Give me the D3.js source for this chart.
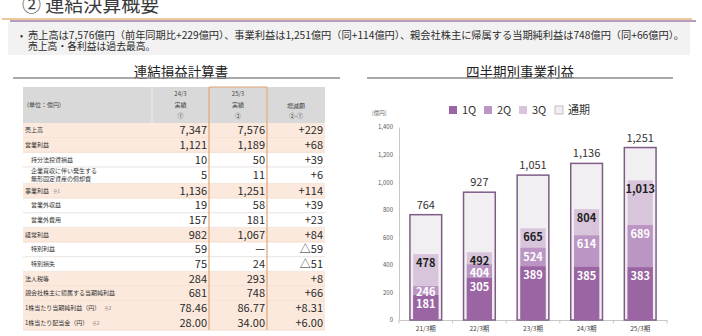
<!DOCTYPE html>
<html lang="ja">
<head>
<meta charset="utf-8">
<script src="https://cdn.jsdelivr.net/npm/d3@7"></script>
<style>
  html, body { margin: 0; padding: 0; background: #ffffff; }
  svg { display: block; font-family: "Noto Sans CJK JP", "Noto Sans", sans-serif; }
</style>
</head>
<body>
<svg id="page" width="702" height="336"></svg>
<script>
// ---- Summary text ----
const pageTitle = "② 連結決算概要";
const summaryLines = [
  "売上高は7,576億円（前年同期比+229億円）、事業利益は1,251億円（同+114億円）、親会社株主に帰属する当期純利益は748億円（同+66億円）。",
  "売上高・各利益は過去最高。"
];

// ---- Income statement table ----
const tableTitle = "連結損益計算書";
const unitLabel = "(単位：億円)";
const columnHeads = [["24/3", "実績", "①"], ["25/3", "実績", "②"], ["", "増減額", "②-①"]];
const rowLabels = [
  "売上高", "営業利益", "持分法投資損益", "企業買収に伴い発生する\n無形固定資産の償却費",
  "事業利益", "営業外収益", "営業外費用", "経常利益", "特別利益", "特別損失",
  "法人税等", "親会社株主に帰属する当期純利益", "1株当たり当期純利益（円）", "1株当たり配当金（円）"
];
const rowNotes = ["", "", "", "", "※1", "", "", "", "", "", "", "", "※2", "※2"];
const prevYear = ["7,347", "1,121", "10", "5", "1,136", "19", "157", "982", "59", "75", "284", "681", "78.46", "28.00"];
const currYear = ["7,576", "1,189", "50", "11", "1,251", "58", "181", "1,067", "—", "24", "293", "748", "86.77", "34.00"];
const changes = ["+229", "+68", "+39", "+6", "+114", "+39", "+23", "+84", "△59", "△51", "+8", "+66", "+8.31", "+6.00"];
const highlightRows = [0, 1, 4, 7, 10, 11, 12, 13];
const indentRows = [2, 3, 5, 6, 8, 9];

// ---- Quarterly business profit (cumulative) ----
const chartTitle = "四半期別事業利益";
const periods = ["21/3期", "22/3期", "23/3期", "24/3期", "25/3期"];
const cum1Q = [181, 305, 389, 385, 383];
const cum2Q = [246, 404, 524, 614, 689];
const cum3Q = [478, 492, 665, 804, 1013];
const fullYear = [764, 927, 1051, 1136, 1251];
const yTicks = [0, 200, 400, 600, 800, 1000, 1200, 1400];
const legendLabels = ["1Q", "2Q", "3Q", "通期"];
const unitY = "[億円]";

const svg = d3.select("#page");
const fmt = d3.format(",");

// ================= Header =================
svg.append("text").attr("x", 22).attr("y", 12)
  .attr("font-size", 19).attr("fill", "#3a3a3a").text(pageTitle);
svg.append("line").attr("x1", 2).attr("x2", 692).attr("y1", 19).attr("y2", 19)
  .attr("stroke", "#e9b57a").attr("stroke-width", 1.6);
svg.append("line").attr("x1", 10).attr("x2", 696).attr("y1", 21).attr("y2", 21)
  .attr("stroke", "#6a3f7c").attr("stroke-width", 1.2);
svg.append("rect").attr("x", 8).attr("y", 22).attr("width", 682).attr("height", 33)
  .attr("fill", "#f2f2f2");
svg.append("text").attr("x", 20).attr("y", 38.5).attr("font-size", 9).attr("fill", "#333").text("•");
summaryLines.forEach((t, i) => {
  const tx = svg.append("text").attr("x", 28).attr("y", 38.5 + i * 11.2)
    .attr("font-size", 9.8).attr("fill", "#2b2b2b").text(t);
  if (i === 0) tx.attr("textLength", 656).attr("lengthAdjust", "spacingAndGlyphs");
});

// ================= Table =================
const tbl = svg.append("g");
tbl.append("text").attr("x", 181).attr("y", 76.5).attr("text-anchor", "middle")
  .attr("font-size", 13.5).attr("fill", "#222").text(tableTitle);
tbl.append("line").attr("x1", 13).attr("x2", 340).attr("y1", 78).attr("y2", 78)
  .attr("stroke", "#8c8c8c").attr("stroke-width", 1.5);

const colEdges = [23, 152, 209, 267, 325];
const headTop = 87, headBottom = 123, tableBottom = 330;

// row heights: the two-line row is slightly taller
const weights = rowLabels.map(l => l.includes("\n") ? 1.12 : 1);
const unit = (tableBottom - headBottom) / d3.sum(weights);
const rowTops = [];
weights.reduce((acc, w) => { rowTops.push(acc); return acc + w * unit; }, headBottom);
const rowH = i => weights[i] * unit;

// header
tbl.append("rect").attr("x", colEdges[0]).attr("y", headTop)
  .attr("width", colEdges[4] - colEdges[0]).attr("height", headBottom - headTop).attr("fill", "#d9d9d9");
[1, 3].forEach(k => tbl.append("line").attr("x1", colEdges[k]).attr("x2", colEdges[k])
  .attr("y1", headTop).attr("y2", headBottom).attr("stroke", "#f4f4f4").attr("stroke-width", 0.8));
tbl.append("text").attr("x", 27).attr("y", 107).attr("font-size", 6).attr("fill", "#444").text(unitLabel);
columnHeads.forEach((lines, c) => {
  const cx = (colEdges[c + 1] + colEdges[c + 2]) / 2;
  const ys = lines[0] ? [96, 107, 118] : [96, 108, 118];
  lines.forEach((t, j) => {
    if (!t) return;
    tbl.append("text").attr("x", cx).attr("y", ys[j]).attr("text-anchor", "middle")
      .attr("font-size", 6).attr("fill", "#444").text(t);
  });
});

// body rows
rowLabels.forEach((label, i) => {
  const y0 = rowTops[i], h = rowH(i), cy = y0 + h / 2;
  const hl = highlightRows.includes(i);
  if (hl) {
    tbl.append("rect").attr("x", colEdges[0]).attr("y", y0)
      .attr("width", colEdges[4] - colEdges[0]).attr("height", h).attr("fill", "#fbe9dd");
  }
  tbl.append("line").attr("x1", colEdges[0]).attr("x2", colEdges[4])
    .attr("y1", y0 + h).attr("y2", y0 + h)
    .attr("stroke", hl ? "#f3d7c6" : "#e2dcd8").attr("stroke-width", 0.8);

  const lx = indentRows.includes(i) ? 31 : 25;
  const parts = label.split("\n");
  parts.forEach((p, j) => {
    const t = tbl.append("text").attr("x", lx)
      .attr("y", cy + 2 + (j - (parts.length - 1) / 2) * 7.5)
      .attr("font-size", 6).attr("fill", "#333").text(p);
    if (j === parts.length - 1 && rowNotes[i]) {
      t.append("tspan").attr("dx", 4).attr("font-size", 4.5).attr("fill", "#666").text(rowNotes[i]);
    }
  });

  [prevYear[i], currYear[i], changes[i]].forEach((v, c) => {
    tbl.append("text").attr("x", colEdges[c + 2] - 2).attr("y", cy + 4)
      .attr("text-anchor", "end").attr("font-size", 11).attr("fill", "#2a2a2a").text(v);
  });
});

// current-year column frame
[colEdges[2], colEdges[3]].forEach(x => tbl.append("line")
  .attr("x1", x).attr("x2", x).attr("y1", headTop).attr("y2", tableBottom)
  .attr("stroke", "#e2a675").attr("stroke-width", 1.2));
tbl.append("line").attr("x1", colEdges[2]).attr("x2", colEdges[3]).attr("y1", headTop).attr("y2", headTop)
  .attr("stroke", "#e2a675").attr("stroke-width", 1.2);

// ================= Chart =================
const ch = svg.append("g");
ch.append("text").attr("x", 520).attr("y", 76.5).attr("text-anchor", "middle")
  .attr("font-size", 13.5).attr("fill", "#222").text(chartTitle);
ch.append("line").attr("x1", 367).attr("x2", 673).attr("y1", 78).attr("y2", 78)
  .attr("stroke", "#8c8c8c").attr("stroke-width", 1.5);

const colors = ["#9a65a2", "#bb95c3", "#d8c5dc", "#f1eff1"];
const barStroke = "#7e5c86";

// legend
const legX = [449, 484, 519, 555];
legendLabels.forEach((l, i) => {
  ch.append("rect").attr("x", legX[i]).attr("y", 106).attr("width", 8).attr("height", 8)
    .attr("fill", colors[i]).attr("stroke", i === 3 ? "#a9a9a9" : "none").attr("stroke-width", 0.7);
  ch.append("text").attr("x", legX[i] + 13).attr("y", 114).attr("font-size", 11)
    .attr("fill", "#333").text(l);
});

const y = d3.scaleLinear().domain([0, 1400]).range([320, 127]);
const x = d3.scaleBand().domain(periods).range([399, 667]).paddingInner(0.38).paddingOuter(0.19);

ch.append("text").attr("x", 372).attr("y", 115).attr("font-size", 5.5).attr("fill", "#666").text(unitY);

const yAxis = ch.append("g").attr("transform", "translate(399,0)")
  .call(d3.axisLeft(y).tickValues(yTicks).tickFormat(fmt).tickSize(0).tickPadding(6));
yAxis.select(".domain").attr("stroke", "#c8c8c8");
yAxis.selectAll("text").attr("font-size", 6).attr("fill", "#555")
  .attr("font-family", "'Noto Sans CJK JP', sans-serif");

const xAxis = ch.append("g").attr("transform", "translate(0,320)")
  .call(d3.axisBottom(x).tickSize(0).tickPadding(6));
xAxis.select(".domain").attr("stroke", "#c8c8c8");
xAxis.selectAll("text").attr("font-size", 6.5).attr("fill", "#444")
  .attr("font-family", "'Noto Sans CJK JP', sans-serif");
// category separators on the baseline
const step = x.step();
const bounds = [x.range()[0]].concat(periods.slice(1).map(p => x(p) - step * x.paddingInner() / 2), [x.range()[1]]);
xAxis.selectAll("line.sep").data(bounds).join("line").attr("class", "sep")
  .attr("x1", d => d).attr("x2", d => d).attr("y1", 0).attr("y2", 3.5).attr("stroke", "#c8c8c8");

const bw = x.bandwidth(), inset = 4;
const bars = ch.selectAll("g.period").data(periods).join("g").attr("class", "period");

// full-year frame bars
bars.append("rect")
  .attr("x", (d) => x(d) + 0.75).attr("width", bw - 1.5)
  .attr("y", (d, i) => y(fullYear[i])).attr("height", (d, i) => y(0) - y(fullYear[i]))
  .attr("fill", colors[3]).attr("stroke", barStroke).attr("stroke-width", 1.5);

// cumulative quarterly bars, drawn largest first
[[cum3Q, 2], [cum2Q, 1], [cum1Q, 0]].forEach(([vals, ci]) => {
  bars.append("rect")
    .attr("x", d => x(d) + inset).attr("width", bw - 2 * inset)
    .attr("y", (d, i) => y(vals[i])).attr("height", (d, i) => y(0) - y(vals[i]))
    .attr("fill", colors[ci]);
});

// value labels
periods.forEach((p, i) => {
  const cx = x(p) + bw / 2;
  let prevY = Infinity;
  [cum1Q, cum2Q, cum3Q].forEach((vals, k) => {
    const ly = Math.min(y(vals[i]) + 9, prevY - 12.5);
    prevY = ly;
    ch.append("text").attr("x", cx).attr("y", ly + 4).attr("text-anchor", "middle")
      .attr("font-size", 11).attr("font-weight", "bold")
      .attr("fill", k < 2 ? "#ffffff" : "#1e1e1e").text(fmt(vals[i]));
  });
  ch.append("text").attr("x", cx).attr("y", y(fullYear[i]) - 6).attr("text-anchor", "middle")
    .attr("font-size", 11).attr("fill", "#333").text(fmt(fullYear[i]));
});
</script>
</body>
</html>
